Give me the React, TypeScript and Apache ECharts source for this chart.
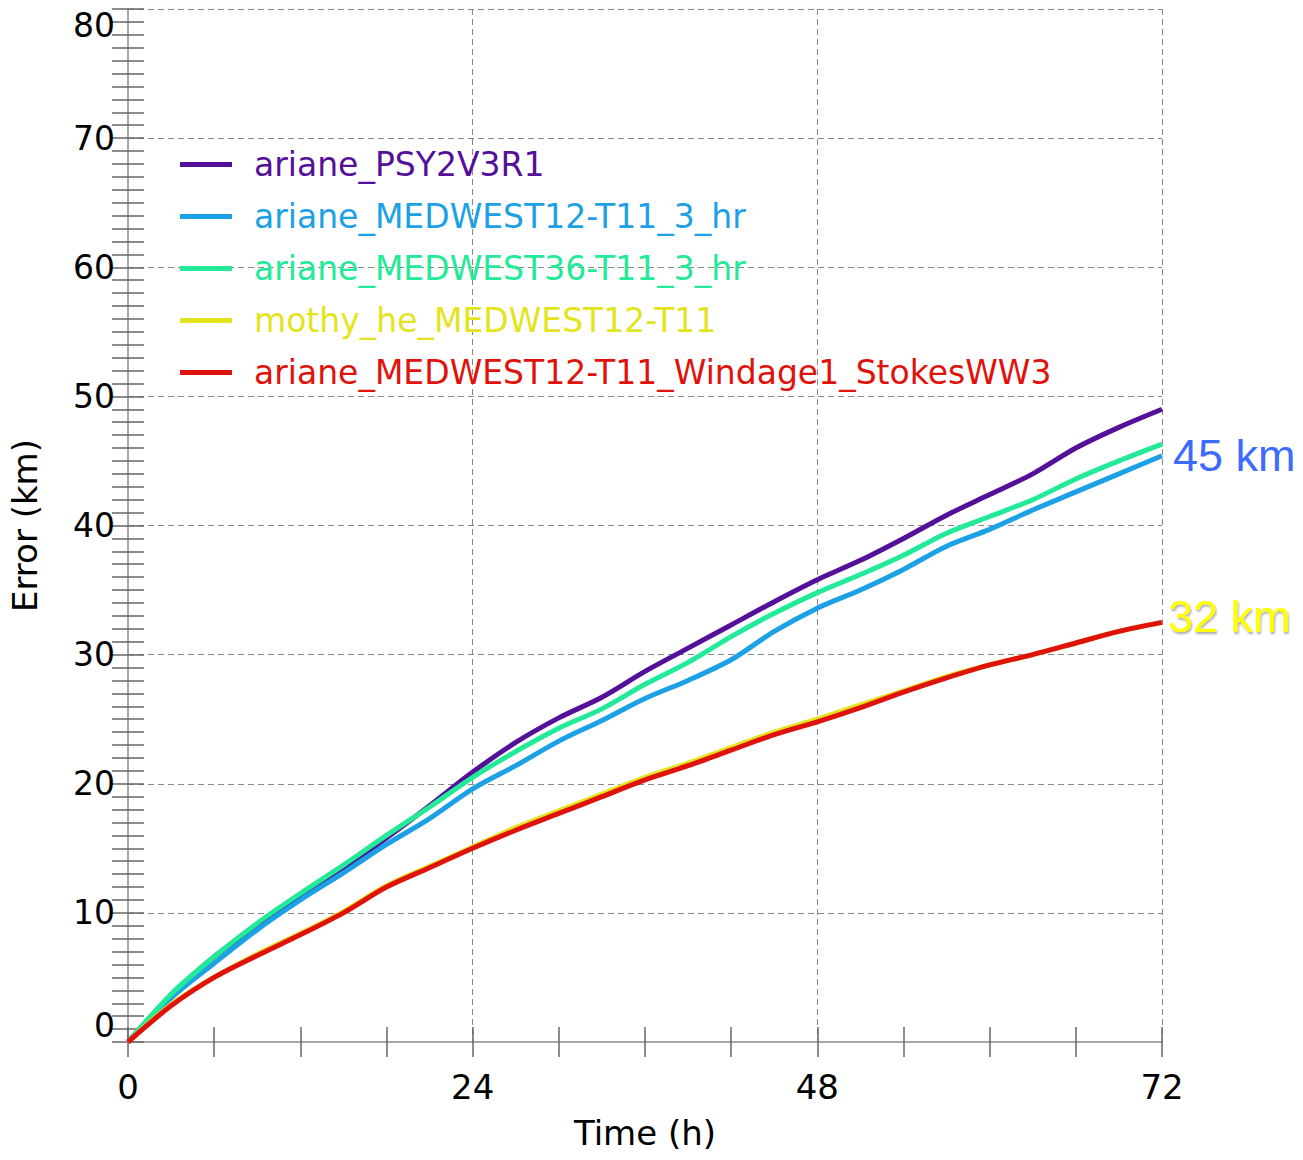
import React, { useEffect, useRef } from "react";
import * as echarts from "echarts";

const hours = [0, 3, 6, 9, 12, 15, 18, 21, 24, 27, 30, 33, 36, 39, 42, 45, 48, 51, 54, 57, 60, 63, 66, 69, 72];

const psy2v3r1 = [0, 3.6, 6.6, 9.0, 11.2, 13.4, 15.8, 18.3, 20.9, 23.2, 25.1, 26.7, 28.7, 30.5, 32.3, 34.1, 35.8, 37.3, 39.0, 40.8, 42.4, 44.0, 46.0, 47.6, 49.0];
const medwest12 = [0, 3.4, 6.1, 8.7, 11.0, 13.1, 15.3, 17.3, 19.6, 21.4, 23.3, 24.9, 26.6, 28.0, 29.6, 31.8, 33.6, 35.0, 36.6, 38.4, 39.7, 41.2, 42.6, 44.0, 45.4];
const medwest36 = [0, 3.7, 6.6, 9.2, 11.5, 13.7, 16.0, 18.2, 20.5, 22.5, 24.3, 25.8, 27.7, 29.4, 31.4, 33.2, 34.8, 36.2, 37.7, 39.4, 40.7, 42.0, 43.6, 45.0, 46.3];
const mothy = [0, 2.9, 5.0, 6.8, 8.4, 10.1, 12.1, 13.6, 15.1, 16.6, 17.9, 19.2, 20.5, 21.6, 22.8, 24.0, 25.0, 26.1, 27.2, 28.3, 29.2, 30.0, 30.9, 31.8, 32.5];
const windage = [0, 2.8, 5.0, 6.7, 8.3, 10.0, 12.0, 13.5, 15.0, 16.4, 17.7, 19.0, 20.3, 21.4, 22.6, 23.8, 24.8, 25.9, 27.1, 28.2, 29.2, 30.0, 30.9, 31.8, 32.5];

const seriesNames = [
  "ariane_PSY2V3R1",
  "ariane_MEDWEST12-T11_3_hr",
  "ariane_MEDWEST36-T11_3_hr",
  "mothy_he_MEDWEST12-T11",
  "ariane_MEDWEST12-T11_Windage1_StokesWW3",
];
const seriesColors = ["#55109a", "#1ca0e6", "#22ea98", "#e4e41c", "#e0120c"];
const seriesValues = [psy2v3r1, medwest12, medwest36, mothy, windage];

const xTicks = [0, 24, 48, 72];
const yTicks = [0, 10, 20, 30, 40, 50, 60, 70, 80];
const blueNote = "45 km";
const yellowNote = "32 km";

const FONT = "DejaVu Sans";

export default function App() {
  const ref = useRef<HTMLDivElement>(null);
  useEffect(() => {
    if (!ref.current) return;
    const chart = echarts.init(ref.current, undefined, { renderer: "svg" });
    const axisLineStyle = { color: "#a8a8a8", width: 2 };
    const tickStyle = { color: "#666", width: 1.5 };
    const splitStyle = { color: "#888", width: 1, type: [6, 4] as any };
    const series: any[] = seriesNames.map((name, i) => {
      const s: any = {
        name,
        type: "line",
        xAxisIndex: 0,
        yAxisIndex: 0,
        data: hours.map((h, j) => [h, seriesValues[i][j]]),
        showSymbol: false,
        symbol: "none",
        smooth: 0.3,
        lineStyle: { color: seriesColors[i], width: 5 },
        itemStyle: { color: seriesColors[i] },
        z: 10 + i,
      };
      if (i === 1) {
        s.endLabel = {
          show: true,
          formatter: () => blueNote,
          color: "#3d6bff",
          fontFamily: "Liberation Sans",
          fontSize: 45,
          distance: 11,
        };
      }
      if (i === 4) {
        s.endLabel = {
          show: true,
          formatter: () => yellowNote,
          color: "#ffff00",
          fontFamily: "Liberation Sans",
          fontSize: 45,
          distance: 6,
          offset: [0, -6],
          textShadowColor: "rgba(0,0,0,0.35)",
          textShadowBlur: 2,
          textShadowOffsetX: 1,
          textShadowOffsetY: 2,
        };
      }
      return s;
    });
    chart.setOption({
      animation: false,
      backgroundColor: "#ffffff",
      grid: {
        left: 128,
        top: 9,
        right: 141,
        bottom: 118,
        containLabel: false,
        outerBoundsMode: "none",
      },
      legend: {
        show: true,
        orient: "vertical",
        left: 180,
        top: 148,
        padding: 0,
        itemWidth: 52,
        itemHeight: 5,
        itemGap: 19,
        icon: "rect",
        textStyle: {
          fontFamily: FONT,
          fontSize: 33,
          lineHeight: 30,
          padding: [0, 0, 0, 17],
        },
        data: seriesNames.map((n, i) => ({
          name: n,
          icon: "rect",
          itemStyle: { color: seriesColors[i] },
          textStyle: { color: seriesColors[i] },
        })),
      },
      xAxis: [
        {
          type: "value",
          min: xTicks[0],
          max: xTicks[xTicks.length - 1],
          interval: 24,
          position: "bottom",
          name: "Time (h)",
          nameLocation: "middle",
          nameGap: 74,
          nameTextStyle: { fontFamily: FONT, fontSize: 34, color: "#000" },
          axisLine: { show: true, lineStyle: axisLineStyle },
          axisTick: { show: true, inside: true, length: 15, lineStyle: tickStyle },
          minorTick: { show: true, splitNumber: 4, length: 15, lineStyle: tickStyle },
          axisLabel: { fontFamily: FONT, fontSize: 34, color: "#000", margin: 28 },
          splitLine: { show: true, lineStyle: splitStyle },
        },
        {
          type: "value",
          min: xTicks[0],
          max: xTicks[xTicks.length - 1],
          interval: 24,
          position: "top",
          axisLine: { show: true, lineStyle: axisLineStyle },
          axisTick: { show: true, inside: true, length: 15, lineStyle: tickStyle },
          minorTick: { show: true, splitNumber: 4, length: 15, lineStyle: tickStyle },
          axisLabel: { show: false },
          splitLine: { show: false },
        },
      ],
      yAxis: [
        {
          type: "value",
          min: yTicks[0],
          max: yTicks[yTicks.length - 1],
          interval: 10,
          position: "left",
          name: "Error (km)",
          nameLocation: "middle",
          nameRotate: 90,
          nameGap: 86,
          nameTextStyle: { fontFamily: FONT, fontSize: 34, color: "#000" },
          axisLine: { show: true, lineStyle: axisLineStyle },
          axisTick: { show: true, inside: true, length: 16, lineStyle: tickStyle },
          minorTick: { show: true, splitNumber: 10, length: 16, lineStyle: tickStyle },
          axisLabel: {
            fontFamily: FONT,
            fontSize: 33,
            color: "#000",
            margin: 13,
            verticalAlignMinLabel: "bottom",
            verticalAlignMaxLabel: "top",
          },
          splitLine: { show: true, lineStyle: splitStyle },
        },
        {
          type: "value",
          min: yTicks[0],
          max: yTicks[yTicks.length - 1],
          interval: 10,
          position: "right",
          axisLine: { show: true, lineStyle: axisLineStyle },
          axisTick: { show: true, inside: true, length: 16, lineStyle: tickStyle },
          minorTick: { show: true, splitNumber: 10, length: 16, lineStyle: tickStyle },
          axisLabel: { show: false },
          splitLine: { show: false },
        },
      ],
      series,
    });
    return () => chart.dispose();
  }, []);
  return (
    <div
      ref={ref}
      style={{ position: "fixed", left: 0, top: 0, width: 1303, height: 1160, background: "#fff" }}
    />
  );
}
